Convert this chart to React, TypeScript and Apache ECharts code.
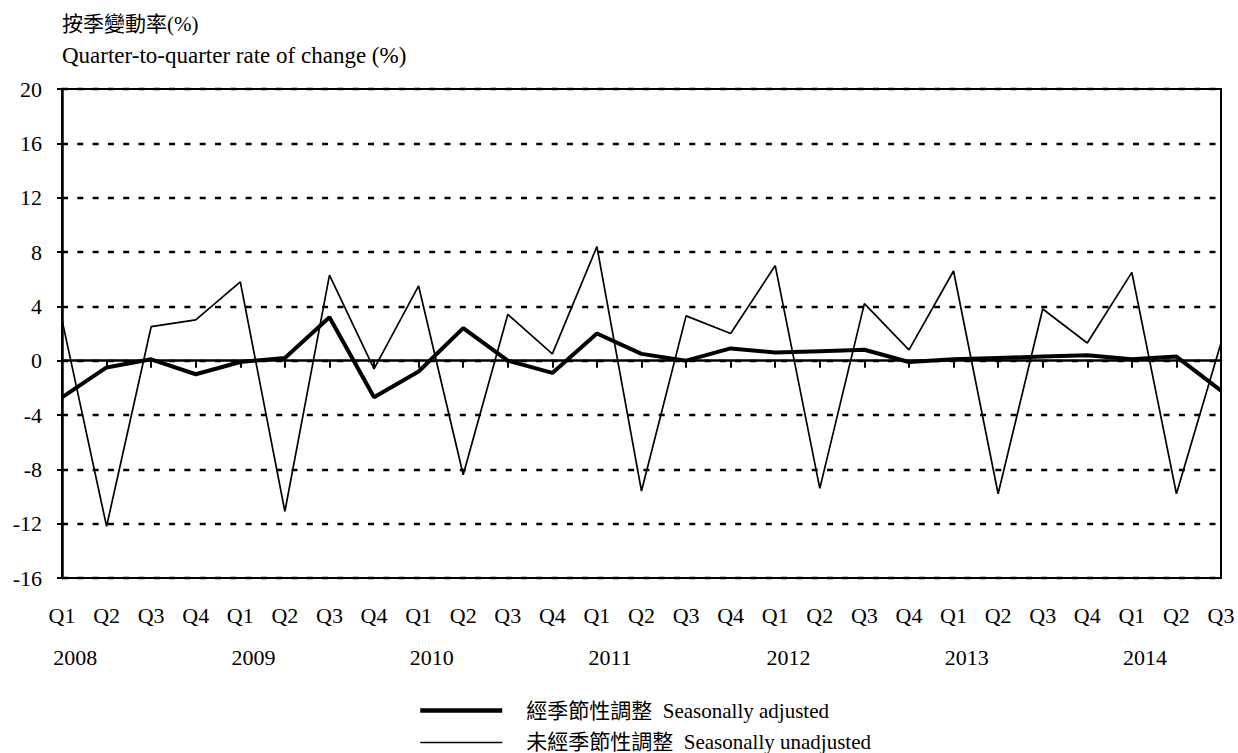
import React, { useEffect, useRef } from "react";
import * as echarts from "echarts";

const categories = [
  "Q1", "Q2", "Q3", "Q4",
  "Q1", "Q2", "Q3", "Q4",
  "Q1", "Q2", "Q3", "Q4",
  "Q1", "Q2", "Q3", "Q4",
  "Q1", "Q2", "Q3", "Q4",
  "Q1", "Q2", "Q3", "Q4",
  "Q1", "Q2", "Q3",
];
const years = ["2008", "2009", "2010", "2011", "2012", "2013", "2014"];

const seasonallyAdjusted = [
  -2.7, -0.5, 0.1, -1.0, -0.1, 0.2, 3.2, -2.7, -0.8, 2.4, 0.0, -0.9, 2.0, 0.5,
  0.0, 0.9, 0.6, 0.7, 0.8, -0.1, 0.1, 0.2, 0.3, 0.4, 0.1, 0.3, -2.2,
];
const seasonallyUnadjusted = [
  3.0, -12.2, 2.5, 3.0, 5.8, -11.1, 6.3, -0.6, 5.5, -8.4, 3.4, 0.5, 8.4, -9.6,
  3.3, 2.0, 7.0, -9.4, 4.2, 0.8, 6.6, -9.8, 3.8, 1.3, 6.5, -9.8, 1.3,
];

const yMin = -16;
const yMax = 20;
const yInterval = 4;

const nameSA = "經季節性調整\u00a0\u00a0Seasonally adjusted";
const nameNSA = "未經季節性調整\u00a0\u00a0Seasonally unadjusted";

const FONT = "'Liberation Serif', 'Times New Roman', 'Noto Sans CJK TC', serif";

export default function App() {
  const ref = useRef<HTMLDivElement>(null);
  useEffect(() => {
    if (!ref.current) return;
    const chart = echarts.init(ref.current, undefined, { renderer: "svg" });
    chart.setOption({
      animation: false,
      backgroundColor: "#fff",
      textStyle: { fontFamily: FONT, color: "#000" },
      title: [
        {
          text: "按季變動率(%)",
          left: 62,
          top: 13,
          padding: 0,
          textStyle: { fontFamily: FONT, fontSize: 21, fontWeight: "normal", color: "#000" },
        },
        {
          text: "Quarter-to-quarter rate of change (%)",
          left: 62,
          top: 44,
          padding: 0,
          textStyle: { fontFamily: FONT, fontSize: 23, fontWeight: "normal", color: "#000" },
        },
      ],
      grid: {
        left: 62,
        right: 17,
        top: 89,
        bottom: 175,
        show: true,
        borderColor: "#000",
        borderWidth: 2,
        containLabel: false,
      },
      legend: {
        orient: "vertical",
        left: 418,
        top: 700,
        height: 60,
        padding: 0,
        itemWidth: 82,
        itemHeight: 20,
        itemGap: 11,
        itemStyle: { opacity: 0 },
        textStyle: {
          fontFamily: FONT,
          fontSize: 21,
          color: "#000",
          lineHeight: 20,
          padding: [0, 0, 0, 19],
        },
        data: [
          { name: nameSA, lineStyle: { width: 4.5, color: "#000" } },
          { name: nameNSA, lineStyle: { width: 1.7, color: "#000" } },
        ],
      },
      xAxis: [
        {
          type: "category",
          data: categories,
          boundaryGap: false,
          axisLine: { show: true, lineStyle: { color: "#000", width: 2.5 } },
          axisTick: { show: true, length: 7, lineStyle: { color: "#000", width: 2 } },
          axisLabel: {
            interval: 0,
            margin: 26,
            fontFamily: FONT,
            fontSize: 22,
            color: "#000",
          },
          splitLine: { show: false },
        },
        {
          type: "value",
          position: "bottom",
          offset: 42,
          min: 0,
          max: categories.length - 1,
          interval: 0.25,
          axisLine: { show: false },
          axisTick: { show: false },
          splitLine: { show: false },
          axisLabel: {
            margin: 26,
            fontFamily: FONT,
            fontSize: 22,
            color: "#000",
            padding: [0, 0, 0, 4],
            showMinLabel: true,
            showMaxLabel: true,
            formatter: (v: number) => {
              const r = v % 4;
              if (Math.abs(r - 0.25) < 1e-6) {
                const idx = Math.round((v - 0.25) / 4);
                return years[idx] ?? "";
              }
              return "";
            },
          },
        },
      ],
      yAxis: {
        type: "value",
        min: yMin,
        max: yMax,
        interval: yInterval,
        axisLine: { show: true, lineStyle: { color: "#000", width: 2.5 } },
        axisTick: { show: true, length: 5, lineStyle: { color: "#000", width: 2 } },
        axisLabel: { margin: 20, fontFamily: FONT, fontSize: 22, color: "#000" },
        splitLine: {
          show: true,
          lineStyle: { color: "#000", width: 2.3, type: [6, 9.3] },
        },
      },
      series: [
        {
          name: nameNSA,
          type: "line",
          data: seasonallyUnadjusted,
          symbol: "none",
          lineStyle: { color: "#000", width: 1.7 },
          itemStyle: { color: "#000" },
          z: 3,
        },
        {
          name: nameSA,
          type: "line",
          data: seasonallyAdjusted,
          symbol: "none",
          lineStyle: { color: "#000", width: 4 },
          itemStyle: { color: "#000" },
          z: 4,
        },
      ],
    });
    return () => chart.dispose();
  }, []);
  return (
    <div
      ref={ref}
      style={{ position: "fixed", left: 0, top: 0, width: 1238, height: 753, background: "#fff" }}
    />
  );
}
